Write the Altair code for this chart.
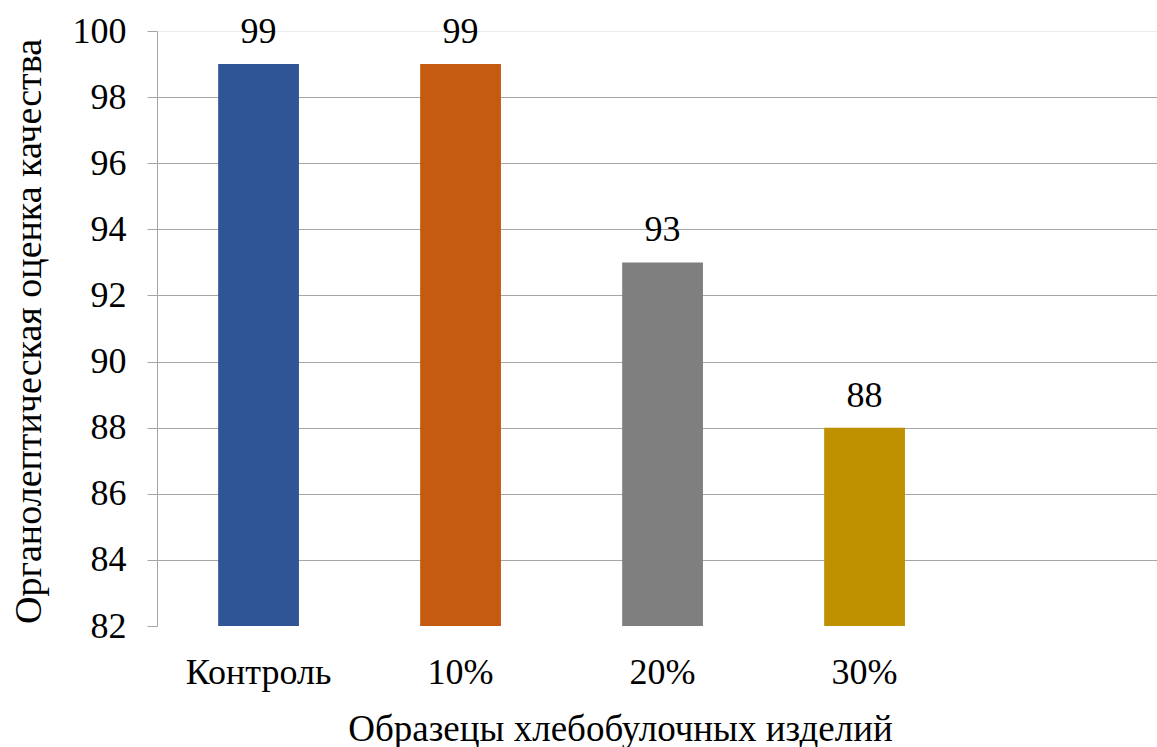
import altair as alt
import pandas as pd

# Categories (the last slot is an empty placeholder, as in the source layout)
samples = ["Контроль", "10%", "20%", "30%"]
scores = [99, 99, 93, 88]
bar_colors = ["#2F5597", "#C55A11", "#7F7F7F", "#BF9000"]
x_domain = samples + [" "]
y_ticks = [82, 84, 86, 88, 90, 92, 94, 96, 98, 100]

df = pd.DataFrame({"sample": samples, "score": scores, "color": bar_colors})

FONT = "Liberation Serif"
GRID = "#a6a6a6"
FS = 36

x_enc = alt.X(
    "sample:N",
    sort=x_domain,
    scale=alt.Scale(domain=x_domain, paddingInner=0.6, paddingOuter=0.2752, align=0.55),
    axis=alt.Axis(
        title="Образецы хлебобулочных изделий",
        labelAngle=0,
        labelFont=FONT,
        labelFontSize=FS,
        labelColor="#000000",
        labelBaseline="alphabetic",
        labelPadding=57,
        ticks=False,
        tickSize=0,
        domain=False,
        titleFont=FONT,
        titleFontSize=37,
        titleFontWeight="normal",
        titleColor="#000000",
        titleX=463,
        titleY=114,
        titleAlign="center",
        titleBaseline="alphabetic",
    ),
)

y_enc = alt.Y(
    "score:Q",
    scale=alt.Scale(domain=[82, 100], zero=False, nice=False),
    axis=alt.Axis(
        title="Органолептическая оценка качества",
        values=y_ticks,
        labelFont=FONT,
        labelFontSize=FS,
        labelColor="#000000",
        labelPadding=21,
        tickSize=10,
        tickColor=GRID,
        domainColor=GRID,
        grid=True,
        gridColor=alt.condition("datum.value == 100", alt.value("#ececec"), alt.value(GRID)),
        gridOpacity=alt.condition("datum.value == 82", alt.value(0), alt.value(1)),
        titleFont=FONT,
        titleFontSize=38,
        titleFontWeight="normal",
        titleColor="#000000",
        titleAngle=-90,
        titleX=-117,
        titleY=300,
        titleAlign="center",
        titleBaseline="alphabetic",
    ),
)

bars = alt.Chart(df).mark_bar(clip=True).encode(
    x=x_enc,
    y=y_enc,
    y2=alt.datum(82),
    color=alt.Color("color:N", scale=None),
)

labels = alt.Chart(df).mark_text(
    font=FONT, fontSize=FS, color="#000000", baseline="alphabetic", dy=-21
).encode(
    x=alt.X("sample:N", sort=x_domain),
    y="score:Q",
    text="score:Q",
)

chart = (
    alt.layer(bars, labels)
    .properties(
        width=1000,
        height=595,
        background="#ffffff",
        autosize=alt.AutoSizeParams(type="none"),
        padding={"left": 157, "top": 31, "right": 0, "bottom": 121},
    )
    .configure(font=FONT)
    .configure_view(stroke=None)
)

chart.save("out.html", embed_options={"renderer": "svg", "actions": False})
